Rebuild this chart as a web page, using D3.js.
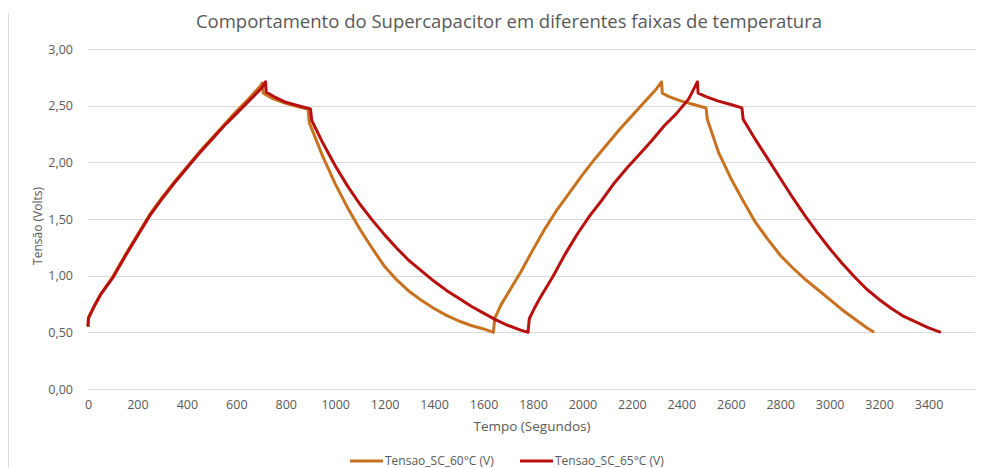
<!DOCTYPE html>
<html lang='pt'>
<head>
  <meta charset='UTF-8'>
  <title>Supercapacitor</title>
  <script src='https://d3js.org/d3.v7.min.js'></script>
  <style>
    body { margin: 0; background: #fff; }
    text { font-family: 'Open Sans', 'Noto Sans', sans-serif; fill: #595959; }
  </style>
</head>
<body>
<div id='main'></div>
<script>
  // dados: [tempo (s), tensão (V)]
  const serie60 = [
    [0, 0.55], [2, 0.62], [25, 0.73], [50, 0.83], [100, 0.99], [150, 1.18], [200, 1.36], [250, 1.54],
    [300, 1.69], [350, 1.83], [400, 1.96], [450, 2.09], [500, 2.21], [550, 2.33], [600, 2.45],
    [650, 2.56], [700, 2.68], [705, 2.70], [709, 2.61], [750, 2.56], [800, 2.52], [850, 2.49],
    [890, 2.47], [895, 2.35], [950, 2.05], [1000, 1.81], [1050, 1.60], [1100, 1.41], [1150, 1.24],
    [1200, 1.08], [1250, 0.96], [1300, 0.86], [1350, 0.78], [1400, 0.71], [1450, 0.65],
    [1500, 0.60], [1550, 0.56], [1600, 0.53], [1640, 0.50],
    [1645, 0.62], [1670, 0.74], [1700, 0.85], [1750, 1.03], [1800, 1.23], [1850, 1.42], [1900, 1.59],
    [1950, 1.74], [2000, 1.89], [2050, 2.03], [2100, 2.16], [2150, 2.29], [2200, 2.41],
    [2250, 2.53], [2300, 2.65], [2320, 2.71], [2323, 2.61], [2350, 2.58], [2400, 2.54],
    [2450, 2.51], [2500, 2.48], [2505, 2.38], [2550, 2.09], [2600, 1.86], [2650, 1.66],
    [2700, 1.47], [2750, 1.32], [2800, 1.18], [2850, 1.07], [2900, 0.97], [2950, 0.88],
    [3000, 0.79], [3050, 0.70], [3100, 0.62], [3150, 0.54], [3180, 0.50]
  ]
  const serie65 = [
    [0, 0.55], [2, 0.63], [25, 0.73], [50, 0.83], [100, 0.98], [150, 1.17], [200, 1.35], [250, 1.53],
    [300, 1.68], [350, 1.82], [400, 1.95], [450, 2.08], [500, 2.20], [550, 2.32], [600, 2.43],
    [650, 2.54], [700, 2.65], [718, 2.71], [721, 2.62], [760, 2.57], [800, 2.53], [850, 2.50],
    [900, 2.47], [905, 2.37], [950, 2.17], [1000, 1.97], [1050, 1.79], [1100, 1.63], [1150, 1.49],
    [1200, 1.36], [1250, 1.24], [1300, 1.13], [1350, 1.04], [1400, 0.95], [1450, 0.87],
    [1500, 0.80], [1550, 0.73], [1600, 0.67], [1650, 0.61], [1700, 0.56], [1750, 0.52],
    [1780, 0.50],
    [1785, 0.62], [1805, 0.71], [1830, 0.81], [1880, 0.99], [1930, 1.19], [1980, 1.37], [2030, 1.53],
    [2080, 1.67], [2130, 1.82], [2180, 1.95], [2230, 2.07], [2280, 2.19], [2330, 2.32],
    [2380, 2.43], [2430, 2.56], [2465, 2.71], [2468, 2.61], [2500, 2.58], [2550, 2.54],
    [2600, 2.51], [2645, 2.48], [2650, 2.38], [2700, 2.20], [2750, 2.03], [2800, 1.86],
    [2850, 1.69], [2900, 1.53], [2950, 1.38], [3000, 1.24], [3050, 1.11], [3100, 0.99],
    [3150, 0.88], [3200, 0.79], [3250, 0.71], [3300, 0.64], [3350, 0.59], [3400, 0.54],
    [3450, 0.50]
  ]
  const nomes = ['Tensao_SC_60°C (V)', 'Tensao_SC_65°C (V)']
  const cores = ['#c8711f', '#b8100f']
  const ticksX = [0, 200, 400, 600, 800, 1000, 1200, 1400, 1600, 1800, 2000, 2200, 2400, 2600, 2800, 3000, 3200, 3400]
  const ticksY = [0, 0.5, 1, 1.5, 2, 2.5, 3]

  const width = 989
  const height = 468
  const margem = {left: 88, right: 11, top: 49, bottom: 79}

  const svg = d3.select('#main').append('svg')
    .attr('width', width)
    .attr('height', height)

  // borda esquerda da área do gráfico
  svg.append('line')
    .attr('x1', 8.5).attr('x2', 8.5)
    .attr('y1', 13).attr('y2', height)
    .attr('stroke', '#d9d9d9')

  const x = d3.scaleLinear().domain([0, 3600]).range([margem.left, width - margem.right])
  const y = d3.scaleLinear().domain([0, 3]).range([height - margem.bottom, margem.top])

  // linhas de grade
  svg.append('g')
    .selectAll('line')
    .data(ticksY)
    .enter().append('line')
    .attr('x1', x(0)).attr('x2', 975)
    .attr('y1', d => Math.round(y(d)) + 0.5).attr('y2', d => Math.round(y(d)) + 0.5)
    .attr('stroke', '#d9d9d9')

  const fmt = d => d3.format('.2f')(d).replace('.', ',')

  const eixoY = svg.append('g')
    .attr('transform', `translate(${x(0) - 12}, 0)`)
    .call(d3.axisLeft(y).tickValues(ticksY).tickSize(0).tickFormat(fmt))
  eixoY.select('.domain').remove()
  eixoY.selectAll('text').style('font-size', '12.5px').style('font-family', null).attr('fill', '#595959')

  const eixoX = svg.append('g')
    .attr('transform', `translate(0, ${y(0) + 8})`)
    .call(d3.axisBottom(x).tickValues(ticksX).tickSize(0).tickFormat(d => d))
  eixoX.select('.domain').remove()
  eixoX.selectAll('text').style('font-size', '12.5px').style('font-family', null).attr('fill', '#595959')

  const linha = d3.line().x(d => x(d[0])).y(d => y(d[1]))

  svg.append('g')
    .selectAll('path')
    .data([serie60, serie65])
    .enter().append('path')
    .attr('d', d => linha(d))
    .attr('fill', 'none')
    .attr('stroke', (d, i) => cores[i])
    .attr('stroke-width', 3)
    .attr('stroke-linejoin', 'round')

  // títulos
  svg.append('text')
    .attr('x', 509).attr('y', 28)
    .attr('text-anchor', 'middle')
    .style('font-size', '18.5px')
    .text('Comportamento do Supercapacitor em diferentes faixas de temperatura')

  svg.append('text')
    .attr('x', 532).attr('y', 431)
    .attr('text-anchor', 'middle')
    .style('font-size', '13.5px')
    .text('Tempo (Segundos)')

  svg.append('text')
    .attr('transform', 'translate(42, 226) rotate(-90)')
    .attr('text-anchor', 'middle')
    .style('font-size', '12px')
    .text('Tensão (Volts)')

  // legenda
  const legenda = svg.append('g')
    .selectAll('g')
    .data(nomes)
    .enter().append('g')
    .attr('transform', (d, i) => `translate(${350 + i * 170}, 461)`)
  legenda.append('line')
    .attr('x1', 0).attr('x2', 33)
    .attr('stroke', (d, i) => cores[i])
    .attr('stroke-width', 3)
  legenda.append('text')
    .attr('x', 35).attr('y', 4)
    .style('font-size', '12px')
    .text(d => d)
</script>
</body>
</html>
